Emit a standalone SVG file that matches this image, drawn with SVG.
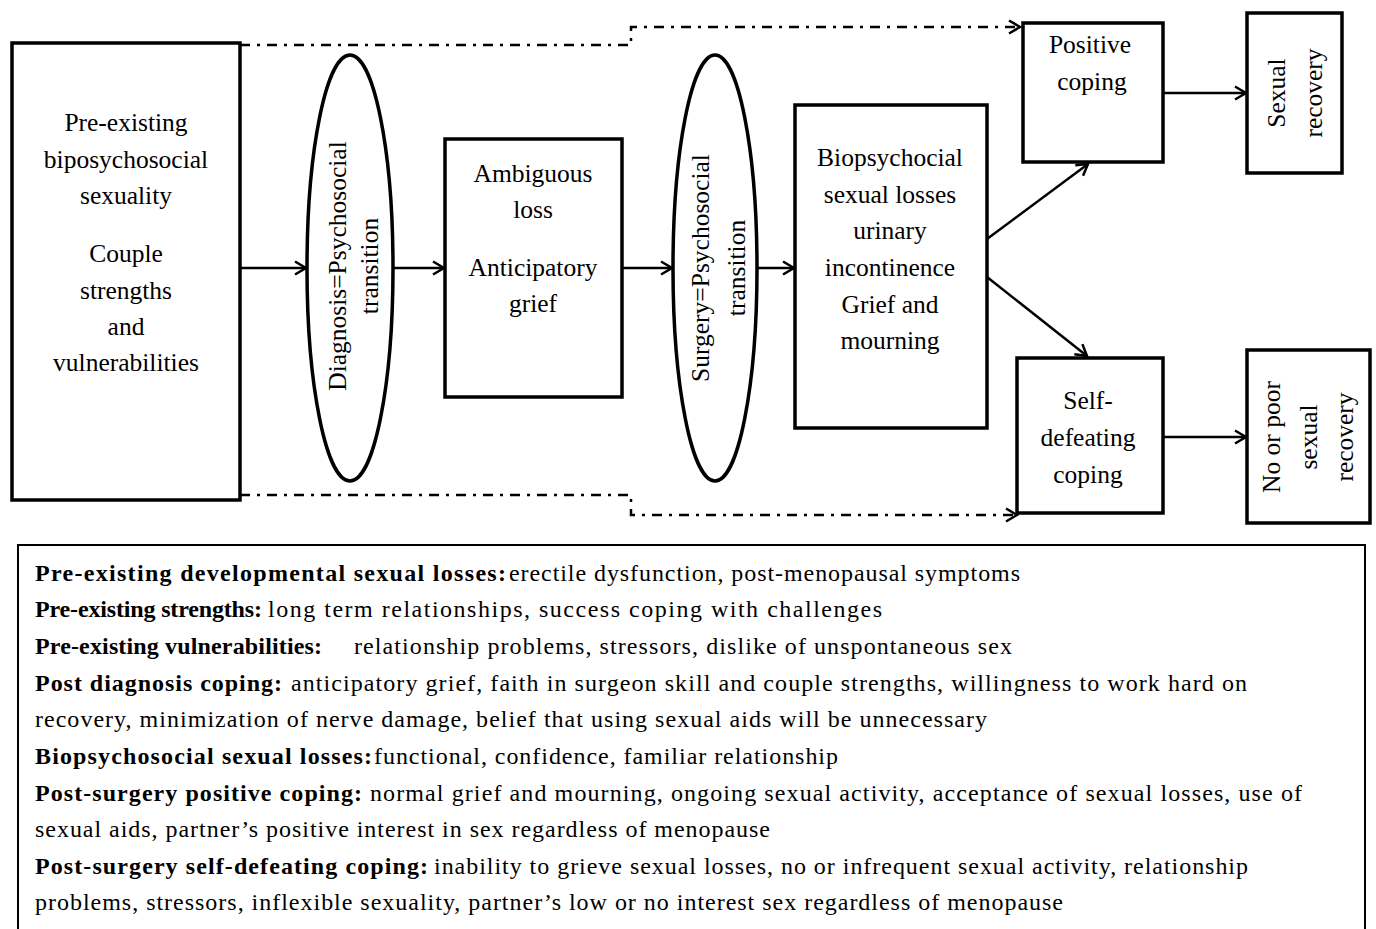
<svg xmlns="http://www.w3.org/2000/svg" width="1376" height="929" viewBox="0 0 1376 929">
<style>
.box{fill:#fff;stroke:#000;stroke-width:3.5}
.ell{fill:#fff;stroke:#000;stroke-width:3.5}
.t{font-family:"Liberation Serif","Times New Roman",serif;font-size:25.5px;fill:#000;text-anchor:middle}
.tr{font-family:"Liberation Serif","Times New Roman",serif;font-size:25.5px;fill:#000;text-anchor:middle}
.c{fill:none;stroke:#000;stroke-width:2.5}
.dd{fill:none;stroke:#000;stroke-width:2.5;stroke-dasharray:10 7 3 7}
.b{font-family:"Liberation Serif","Times New Roman",serif;font-size:24px;font-weight:bold;fill:#000}
.n{font-family:"Liberation Serif","Times New Roman",serif;font-size:24px;fill:#000}
</style>
<defs>
<marker id="arr" markerUnits="userSpaceOnUse" markerWidth="16" markerHeight="16" refX="13" refY="8" orient="auto">
<path d="M2,1.5 L13,8 L2,14.5" fill="none" stroke="#000" stroke-width="2.5"/>
</marker>
</defs>

<g id="connectors">
<path class="dd" d="M240,45 H631 V27 H1020" marker-end="url(#arr)"/>
<path class="dd" d="M240,495 H631 V515 H1017" marker-end="url(#arr)"/>
<line class="c" x1="240" y1="268" x2="306" y2="268" marker-end="url(#arr)"/>
<line class="c" x1="393" y1="268" x2="444" y2="268" marker-end="url(#arr)"/>
<line class="c" x1="622" y1="268" x2="672" y2="268" marker-end="url(#arr)"/>
<line class="c" x1="757" y1="268" x2="794" y2="268" marker-end="url(#arr)"/>
<line class="c" x1="987" y1="239" x2="1088" y2="164" marker-end="url(#arr)"/>
<line class="c" x1="987" y1="277" x2="1087" y2="356" marker-end="url(#arr)"/>
<line class="c" x1="1163" y1="93" x2="1246" y2="93" marker-end="url(#arr)"/>
<line class="c" x1="1163" y1="437" x2="1246" y2="437" marker-end="url(#arr)"/>
</g>

<g id="node-preexisting">
<rect class="box" x="12" y="43" width="228" height="457"/>
<text class="t" x="126" y="131">Pre-existing</text>
<text class="t" x="126" y="168">biposychosocial</text>
<text class="t" x="126" y="204">sexuality</text>
<text class="t" x="126" y="262">Couple</text>
<text class="t" x="126" y="299">strengths</text>
<text class="t" x="126" y="335">and</text>
<text class="t" x="126" y="371">vulnerabilities</text>
</g>

<g id="node-diagnosis">
<ellipse class="ell" cx="350" cy="268" rx="43" ry="213"/>
<text class="tr" transform="translate(346,266) rotate(-90)">Diagnosis=Psychosocial</text>
<text class="tr" transform="translate(378,266) rotate(-90)">transition</text>
</g>

<g id="node-ambiguous">
<rect class="box" x="445" y="139" width="177" height="258"/>
<text class="t" x="533" y="182">Ambiguous</text>
<text class="t" x="533" y="218">loss</text>
<text class="t" x="533" y="276">Anticipatory</text>
<text class="t" x="533" y="312">grief</text>
</g>

<g id="node-surgery">
<ellipse class="ell" cx="715" cy="268" rx="42" ry="213"/>
<text class="tr" transform="translate(709,268) rotate(-90)">Surgery=Psychosocial</text>
<text class="tr" transform="translate(745,268) rotate(-90)">transition</text>
</g>

<g id="node-biopsych">
<rect class="box" x="795" y="105" width="192" height="323"/>
<text class="t" x="890" y="166">Biopsychocial</text>
<text class="t" x="890" y="203">sexual  losses</text>
<text class="t" x="890" y="239">urinary</text>
<text class="t" x="890" y="276">incontinence</text>
<text class="t" x="890" y="313">Grief  and</text>
<text class="t" x="890" y="349">mourning</text>
</g>

<g id="node-positive">
<rect class="box" x="1023" y="23" width="140" height="139"/>
<text class="t" x="1090" y="53">Positive</text>
<text class="t" x="1092" y="90">coping</text>
</g>

<g id="node-sexual-recovery">
<rect class="box" x="1247" y="13" width="95" height="160"/>
<text class="tr" transform="translate(1285,93) rotate(-90)">Sexual</text>
<text class="tr" transform="translate(1322,93) rotate(-90)">recovery</text>
</g>

<g id="node-selfdefeating">
<rect class="box" x="1017" y="358" width="146" height="155"/>
<text class="t" x="1088" y="409">Self-</text>
<text class="t" x="1088" y="446">defeating</text>
<text class="t" x="1088" y="483">coping</text>
</g>

<g id="node-no-recovery">
<rect class="box" x="1247" y="350" width="123" height="173"/>
<text class="tr" transform="translate(1280,437) rotate(-90)">No or poor</text>
<text class="tr" transform="translate(1317,437) rotate(-90)">sexual</text>
<text class="tr" transform="translate(1353,437) rotate(-90)">recovery</text>
</g>

<g id="legend">
<rect x="18" y="545" width="1347" height="400" fill="#fff" stroke="#000" stroke-width="2"/>
<text class="b" x="35" y="581" textLength="471" lengthAdjust="spacing">Pre-existing developmental sexual losses:</text>
<text class="n" x="509" y="581" textLength="511" lengthAdjust="spacing">erectile dysfunction, post-menopausal symptoms</text>
<text class="b" x="35" y="617" textLength="227" lengthAdjust="spacing">Pre-existing strengths:</text>
<text class="n" x="268" y="617" textLength="614" lengthAdjust="spacing">long term relationships, success coping with challenges</text>
<text class="b" x="35" y="654" textLength="287" lengthAdjust="spacing">Pre-existing vulnerabilities:</text>
<text class="n" x="354" y="654" textLength="658" lengthAdjust="spacing">relationship problems, stressors, dislike of unspontaneous sex</text>
<text class="b" x="35" y="691" textLength="247" lengthAdjust="spacing">Post diagnosis coping:</text>
<text class="n" x="291" y="691" textLength="956" lengthAdjust="spacing">anticipatory grief, faith in surgeon skill and couple strengths, willingness to work hard on</text>
<text class="n" x="35" y="727" textLength="952" lengthAdjust="spacing">recovery, minimization of nerve damage, belief that using sexual aids will be unnecessary</text>
<text class="b" x="35" y="764" textLength="337" lengthAdjust="spacing">Biopsychosocial sexual losses:</text>
<text class="n" x="374" y="764" textLength="464" lengthAdjust="spacing">functional, confidence, familiar relationship</text>
<text class="b" x="35" y="801" textLength="327" lengthAdjust="spacing">Post-surgery positive coping:</text>
<text class="n" x="370" y="801" textLength="932" lengthAdjust="spacing">normal grief and mourning, ongoing sexual activity, acceptance of sexual losses, use of</text>
<text class="n" x="35" y="837" textLength="735" lengthAdjust="spacing">sexual aids, partner’s positive interest in sex regardless of menopause</text>
<text class="b" x="35" y="874" textLength="393" lengthAdjust="spacing">Post-surgery self-defeating coping:</text>
<text class="n" x="434" y="874" textLength="814" lengthAdjust="spacing">inability to grieve sexual losses, no or infrequent sexual activity, relationship</text>
<text class="n" x="35" y="910" textLength="1028" lengthAdjust="spacing">problems, stressors, inflexible sexuality, partner’s low or no interest sex regardless of menopause</text>
</g>
</svg>
